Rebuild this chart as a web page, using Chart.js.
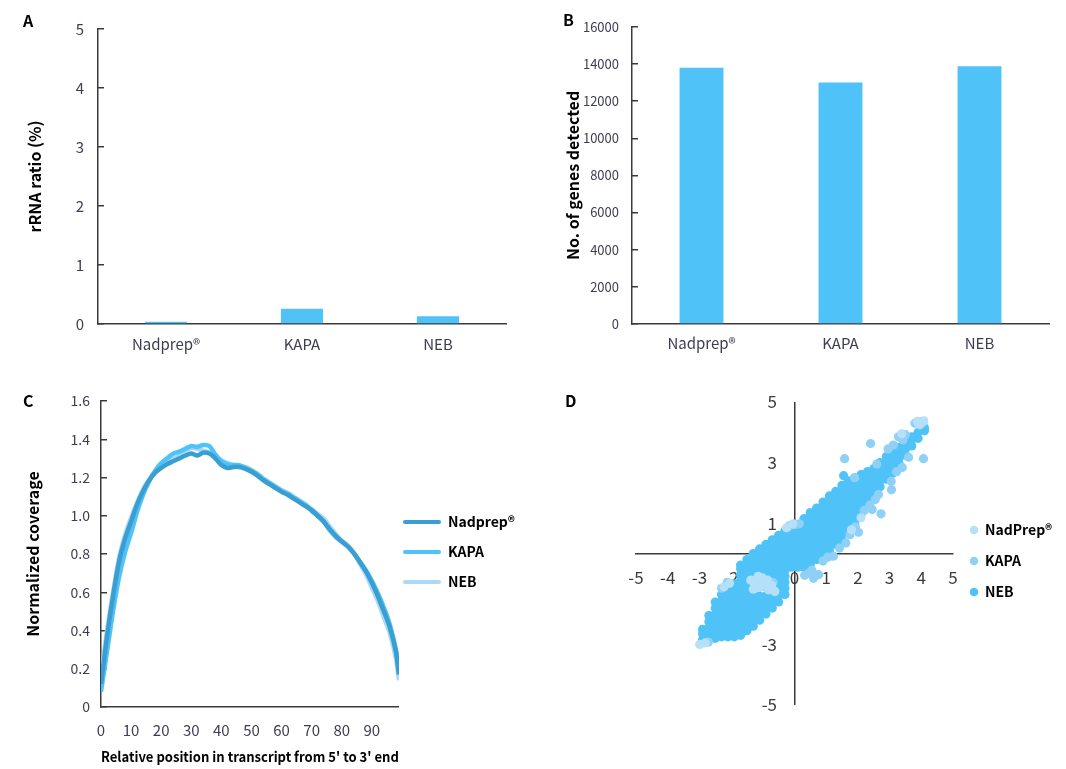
<!DOCTYPE html>
<html><head><meta charset="utf-8">
<script src="https://cdn.jsdelivr.net/npm/chart.js@4/dist/chart.umd.min.js"></script>
<style>
html,body{margin:0;padding:0;background:#fff;}
#page{position:relative;width:1066px;height:769px;overflow:hidden;background:#fff;}
canvas{position:absolute;}
.lbl{position:absolute;font-family:'Noto Sans CJK SC','Noto Sans',sans-serif;font-weight:700;font-size:16px;color:#000;line-height:1;}
</style></head><body>
<div id="page">
<canvas id="cA" width="533" height="375" style="left:0;top:0"></canvas>
<canvas id="cB" width="533" height="375" style="left:533px;top:0"></canvas>
<canvas id="cC" width="533" height="394" style="left:0;top:375px"></canvas>
<canvas id="cD" width="533" height="394" style="left:533px;top:375px"></canvas>
<div class="lbl" style="left:23px;top:12px">A</div>
<div class="lbl" style="left:563px;top:11px">B</div>
<div class="lbl" style="left:23px;top:392px">C</div>
<div class="lbl" style="left:565px;top:392px">D</div>
</div>
<script>
// ---------- DATA ----------
const libraries = ['Nadprep®', 'KAPA', 'NEB'];
const rrnaRatio = [0.04, 0.26, 0.13];
const genesDetected = [13800, 13000, 13870];

const coveragePos = [0,2,4,6,8,10,12,14,16,18,20,22,24,26,28,30,32,34,36,38,40,42,44,46,48,50,52,54,56,58,60,62,64,66,68,70,72,74,76,78,80,82,84,86,88,90,92,94,96,98,99];
const nadprepCov = [0.12,0.37,0.58,0.76,0.88,0.97,1.06,1.13,1.185,1.225,1.25,1.27,1.285,1.30,1.315,1.325,1.315,1.33,1.325,1.30,1.265,1.25,1.255,1.255,1.245,1.23,1.21,1.185,1.165,1.145,1.125,1.11,1.09,1.07,1.05,1.03,1.0,0.97,0.93,0.895,0.865,0.84,0.805,0.76,0.71,0.65,0.58,0.50,0.415,0.29,0.17];
const kapaCov = [0.08,0.29,0.50,0.68,0.81,0.91,1.02,1.11,1.18,1.235,1.275,1.30,1.325,1.335,1.35,1.365,1.36,1.37,1.365,1.32,1.285,1.27,1.265,1.265,1.25,1.235,1.215,1.19,1.17,1.15,1.13,1.115,1.095,1.075,1.055,1.025,1.0,0.97,0.925,0.89,0.865,0.84,0.805,0.76,0.715,0.66,0.595,0.52,0.43,0.30,0.18];
const nebCov = [0.15,0.40,0.60,0.78,0.90,0.99,1.07,1.14,1.19,1.23,1.26,1.29,1.31,1.325,1.34,1.355,1.35,1.34,1.33,1.31,1.29,1.275,1.265,1.26,1.255,1.24,1.22,1.195,1.175,1.155,1.135,1.12,1.10,1.08,1.06,1.035,1.01,0.985,0.945,0.905,0.87,0.845,0.805,0.75,0.695,0.625,0.555,0.47,0.385,0.255,0.14];

const scatterSeries = ['NadPrep®', 'KAPA', 'NEB'];
const nadprepPoints = [[-2.99,-3.0],[-2.82,-2.95],[-1.38,-0.88],[-1.22,-0.95],[-1.1,-1.12],[-0.95,-1.0],[-0.82,-1.2],[-1.02,-0.8],[-0.72,-1.05],[-0.62,-1.25],[-1.3,-1.18],[-2.05,-0.98],[-2.22,-1.1],[3.88,4.36],[4.08,4.38],[3.95,4.25],[3.38,3.95],[-0.05,0.98],[-0.25,0.85],[1.8,0.78],[2.1,1.18],[-1.15,-0.75],[-0.85,-0.88]];
const kapaPoints = [[1.58,3.13],[2.4,3.63],[4.07,3.13],[3.06,2.1],[3.4,2.84],[2.73,1.31],[2.02,0.70],[1.23,-0.09],[0.45,-0.65],[0.6,-0.82],[0.76,-0.7],[0.55,-0.55],[0.32,-0.72],[0.9,-0.25],[1.05,-0.12],[3.28,3.85],[3.5,3.92],[3.42,3.75],[3.8,4.3],[3.95,4.35],[4.05,4.32],[2.95,3.45],[3.12,3.58],[2.2,1.42],[2.38,1.6],[2.55,1.78],[2.65,1.95],[2.45,1.45],[1.75,0.62],[1.92,0.88],[1.62,0.35],[1.42,0.18],[3.05,2.38],[3.22,2.7],[3.6,3.18],[-1.2,-1.0],[-0.9,-1.12],[-0.68,-0.95],[-2.3,-1.15],[-2.12,-0.95],[-2.72,-2.92],[0.02,0.95],[0.15,0.98],[-0.15,0.92],[2.6,2.95],[1.9,2.5]];
// NEB: columns of [x, [y values]]
const nebColumns = [
[-2.9, [-2.85,-2.65,-2.5]],
[-2.7, [-2.85,-2.65,-2.45,-2.25,-2.05]],
[-2.5, [-2.8,-2.6,-2.4,-2.2,-2.0,-1.8,-1.6]],
[-2.3, [-2.75,-2.55,-2.35,-2.15,-1.95,-1.75,-1.55,-1.35]],
[-2.1, [-2.75,-2.55,-2.35,-2.15,-1.95,-1.75,-1.55,-1.35,-1.15,-1.05]],
[-1.9, [-2.75,-2.55,-2.35,-2.15,-1.95,-1.75,-1.55,-1.35,-1.15,-1.0]],
[-1.7, [-2.7,-2.5,-2.3,-2.1,-1.9,-1.7,-1.5,-1.3,-1.1,-0.9,-0.7,-0.5,-0.38]],
[-1.5, [-2.55,-2.35,-2.15,-1.95,-1.75,-1.55,-1.35,-1.15,-0.95,-0.75,-0.55,-0.35,-0.2]],
[-1.3, [-2.4,-2.2,-2.0,-1.8,-1.6,-1.4,-0.7,-0.5,-0.3,-0.1,0.0]],
[-1.1, [-2.2,-2.0,-1.8,-1.6,-1.4,-0.7,-0.5,-0.3,-0.1,0.1,0.15]],
[-0.9, [-2.0,-1.8,-1.6,-1.4,-0.7,-0.5,-0.3,-0.1,0.1,0.3]],
[-0.7, [-1.8,-1.6,-1.4,-0.7,-0.5,-0.3,-0.1,0.1,0.3,0.45]],
[-0.5, [-1.6,-1.4,-1.2,-1.0,-0.8,-0.6,-0.4,-0.2,0.0,0.2,0.4,0.6]],
[-0.3, [-1.35,-1.15,-0.95,-0.75,-0.55,-0.35,-0.15,0.05,0.25,0.45,0.65,0.75]],
[-0.1, [-0.45,-0.25,-0.05,0.15,0.35,0.55,0.75,0.85]],
[0.1, [-0.45,-0.25,-0.05,0.15,0.35,0.55,0.75,0.95]],
[0.3, [-0.45,-0.25,-0.05,0.15,0.35,0.55,0.75,0.95,1.15]],
[0.5, [-0.35,-0.15,0.05,0.25,0.45,0.65,0.85,1.05,1.25,1.35]],
[0.7, [-0.2,0.0,0.2,0.4,0.6,0.8,1.0,1.2,1.4,1.5]],
[0.9, [-0.05,0.15,0.35,0.55,0.75,0.95,1.15,1.35,1.55,1.7]],
[1.1, [0.1,0.3,0.5,0.7,0.9,1.1,1.3,1.5,1.7,1.9]],
[1.3, [0.3,0.5,0.7,0.9,1.1,1.3,1.5,1.7,1.9,2.05]],
[1.5, [0.45,0.65,0.85,1.05,1.25,1.45,1.65,1.85,2.05,2.25]],
[1.7, [0.75,0.95,1.15,1.35,1.55,1.75,1.95,2.15,2.35,2.4]],
[1.9, [1.0,1.2,1.4,1.6,1.8,2.0,2.2,2.4,2.5]],
[2.1, [1.3,1.5,1.7,1.9,2.1,2.3,2.5,2.6]],
[2.3, [1.6,1.8,2.0,2.2,2.4,2.6,2.7]],
[2.5, [1.95,2.15,2.35,2.55,2.75,2.8]],
[2.7, [2.2,2.4,2.6,2.8,3.0]],
[2.9, [2.45,2.65,2.85,3.05,3.2]],
[3.1, [2.65,2.85,3.05,3.25,3.35]],
[3.3, [2.95,3.15,3.35,3.5]],
[3.5, [3.25,3.45,3.65]],
[3.7, [3.55,3.75,3.85]],
[3.9, [3.8,4.0]],
[4.1, [4.05,4.15]],
[1.55, [2.57]]
];

// ---------- STYLE ----------
const FONT = "'Noto Sans CJK SC','Noto Sans',sans-serif";
Chart.defaults.font.family = FONT;
const AXIS = '#3a3a3a';
const TICK = '#3d3d52';
const BAR = '#4fc3f7';
const lineColors = ['#3a9ed2', '#4fc3f7', '#a8daf7'];
const dotColors = ['#b6e0f9', '#8fd1f6', '#4fc3f7'];

const fixedWidth = w => s => { s.width = w; };
const fixedHeight = h => s => { s.height = h; };
const placeLegend = (left, top) => ({
  id: 'placeLegend',
  afterLayout(chart) {
    const l = chart.legend; if (!l) return;
    const w = l.width;
    l.left = left; l.right = left + w; l.top = top; l.bottom = top + 200;
  }
});
function fitRight(chart, cfg, target) {
  for (let k = 0; k < 3; k++) {
    const d = chart.chartArea.right - target;
    if (Math.abs(d) < 0.01) break;
    cfg.options.layout.padding.right += d;
    chart.update();
  }
}
const inwardTicks = { display: true, drawOnChartArea: false, drawTicks: true, tickLength: -6, color: AXIS, lineWidth: 1.5 };
const base = { responsive: false, animation: false, devicePixelRatio: 1, events: [] };

// ---------- A ----------
new Chart(document.getElementById('cA'), {
  type: 'bar',
  data: { labels: libraries, datasets: [{ data: rrnaRatio, backgroundColor: BAR, barPercentage: 0.31, categoryPercentage: 1 }] },
  options: Object.assign({}, base, {
    layout: { padding: { top: 21, right: 27, bottom: 0, left: 0 } },
    plugins: { legend: { display: false }, tooltip: { enabled: false } },
    scales: {
      x: { grid: { display: false }, border: { display: true, color: AXIS, width: 1.5 },
           ticks: { color: TICK, font: { size: 15 }, padding: 3 }, afterFit: fixedHeight(51) },
      y: { min: 0, max: 5, ticks: { stepSize: 1, color: TICK, font: { size: 15 }, padding: 20 },
           grid: inwardTicks, border: { display: true, color: AXIS, width: 1.5 },
           title: { display: true, text: 'rRNA ratio (%)', color: '#000', font: { size: 16, weight: 'bold' }, padding: { top: 25, bottom: 0 } },
           afterFit: fixedWidth(98) }
    }
  })
});

// ---------- B ----------
new Chart(document.getElementById('cB'), {
  type: 'bar',
  data: { labels: libraries, datasets: [{ data: genesDetected, backgroundColor: BAR, barPercentage: 0.316, categoryPercentage: 1 }] },
  options: Object.assign({}, base, {
    layout: { padding: { top: 19, right: 17, bottom: 0, left: 0 } },
    plugins: { legend: { display: false }, tooltip: { enabled: false } },
    scales: {
      x: { grid: { display: false }, border: { display: true, color: AXIS, width: 1.5 },
           ticks: { color: TICK, font: { size: 15 }, padding: 2 }, afterFit: fixedHeight(51) },
      y: { min: 0, max: 16000, ticks: { stepSize: 2000, color: TICK, font: { size: 13 }, padding: 19, callback: v => String(v) },
           grid: inwardTicks, border: { display: true, color: AXIS, width: 1.5 },
           title: { display: true, text: 'No. of genes detected', color: '#000', font: { size: 16, weight: 'bold' }, padding: { top: 30, bottom: 0 } },
           afterFit: fixedWidth(99) }
    }
  })
});

// ---------- C ----------
const covSeries = [
  { label: 'Nadprep®', values: nadprepCov },
  { label: 'KAPA', values: kapaCov },
  { label: 'NEB', values: nebCov }
];
const cfgC = {
  type: 'line',
  data: {
    datasets: covSeries.map((s, i) => ({
      label: s.label,
      data: coveragePos.map((x, j) => ({ x: x, y: s.values[j] })),
      borderColor: lineColors[i], backgroundColor: lineColors[i],
      borderWidth: 4.5, pointRadius: 0, tension: 0.3, fill: false
    }))
  },
  options: Object.assign({}, base, {
    layout: { padding: { top: 26, right: 10, bottom: 0, left: 0 } },
    plugins: {
      tooltip: { enabled: false },
      legend: {
        position: 'right', align: 'start',
        labels: {
          boxWidth: 38, boxHeight: 4, padding: 16, color: '#000',
          font: { size: 14, weight: 'bold' }, useBorderRadius: true, borderRadius: 2,
          generateLabels: chart => Chart.defaults.plugins.legend.labels.generateLabels(chart).map(it => Object.assign(it, { lineWidth: 0 }))
        }
      }
    },
    scales: {
      x: { type: 'linear', min: 0, max: 99,
           ticks: { stepSize: 10, includeBounds: false, color: TICK, font: { size: 15 }, padding: 6 },
           grid: { display: false }, border: { display: true, color: AXIS, width: 1.5 },
           title: { display: true, text: "Relative position in transcript from 5' to 3' end", color: '#000', font: { size: 14, weight: 'bold' }, padding: { top: 0, bottom: 4 } },
           afterFit: fixedHeight(62) },
      y: { min: 0, max: 1.6,
           ticks: { stepSize: 0.2, color: TICK, font: { size: 14 }, padding: 17, callback: v => (Math.abs(v) < 1e-9 ? '0' : v.toFixed(1)) },
           grid: inwardTicks, border: { display: true, color: AXIS, width: 1.5 },
           title: { display: true, text: 'Normalized coverage', color: '#000', font: { size: 16, weight: 'bold' }, padding: { top: 23, bottom: 0 } },
           afterFit: fixedWidth(101) }
    }
  }),
  plugins: [placeLegend(387, 124)]
};
const chartC = new Chart(document.getElementById('cC'), cfgC);
fitRight(chartC, cfgC, 399);

// ---------- D ----------
const nebPoints = [];
nebColumns.forEach(([x, ys]) => ys.forEach(y => nebPoints.push([x, y])));
const dotSeries = [nadprepPoints, kapaPoints, nebPoints];
const cfgD = {
  type: 'scatter',
  data: {
    datasets: dotSeries.map((pts, i) => ({
      label: scatterSeries[i],
      data: pts.map(p => ({ x: p[0], y: p[1] })),
      backgroundColor: dotColors[i], borderColor: dotColors[i], borderWidth: 0,
      pointRadius: 4.6, pointHoverRadius: 4.6, pointStyle: 'circle'
    }))
  },
  options: Object.assign({}, base, {
    layout: { padding: { top: 27, right: 10, bottom: 64, left: 103 } },
    plugins: {
      tooltip: { enabled: false },
      legend: {
        position: 'right', align: 'start',
        labels: { usePointStyle: true, boxWidth: 8, boxHeight: 6, padding: 17, color: '#000', font: { size: 14, weight: 'bold' } }
      }
    },
    scales: {
      x: { type: 'linear', position: { y: 0 }, min: -5, max: 5,
           ticks: { stepSize: 1, color: '#3a3a3a', font: { size: 17 }, padding: 14 },
           grid: { display: true, drawOnChartArea: true, drawTicks: false, lineWidth: 1.5,
                   color: ctx => (ctx.tick && ctx.tick.value === 0 ? AXIS : 'rgba(0,0,0,0)') },
           border: { display: true, color: AXIS, width: 1.5 } },
      y: { type: 'linear', position: { x: -0.55 }, min: -5, max: 5,
           ticks: { stepSize: 2, color: '#3a3a3a', font: { size: 17 } },
           grid: { display: false }, border: { display: false } }
    }
  }),
  plugins: [placeLegend(420, 131)]
};
const chartD = new Chart(document.getElementById('cD'), cfgD);
fitRight(chartD, cfgD, 420);
</script>
</body></html>
